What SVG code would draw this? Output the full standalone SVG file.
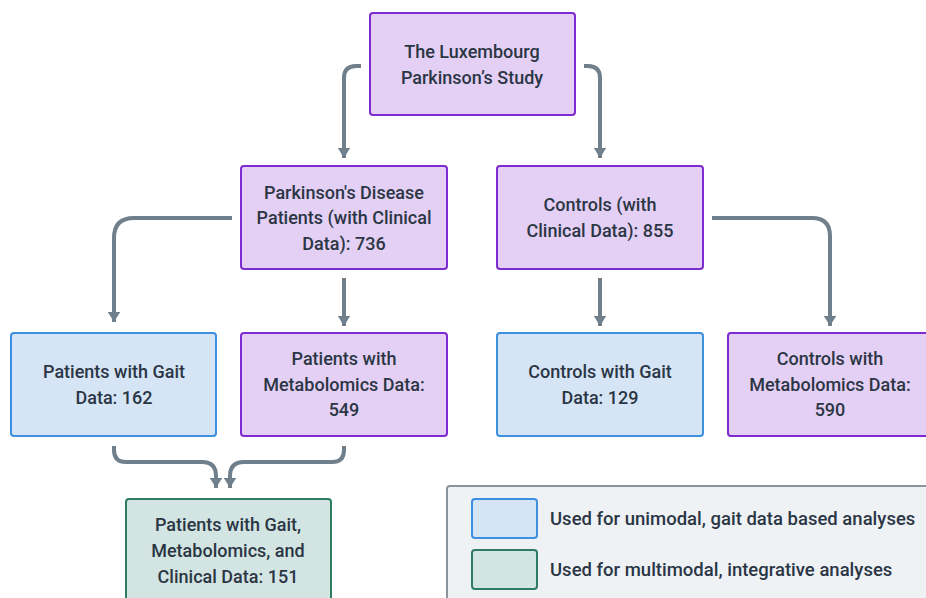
<svg xmlns="http://www.w3.org/2000/svg" width="926" height="598" viewBox="0 0 926 598">
<style>
.purple{fill:#e4d0f4;stroke:#7d2bd0;stroke-width:2}
.blue{fill:#d6e5f6;stroke:#3d8fe0;stroke-width:2}
.green{fill:#d3e5e2;stroke:#2e7d63;stroke-width:2}
.legend{fill:#eff2f5;stroke:#8b939b;stroke-width:2}
text{font-family:Roboto,"Noto Sans",sans-serif;font-size:18px;font-weight:500;fill:#2b3645;text-anchor:middle}
.lt{text-anchor:start;font-size:18.5px}
.conn path{fill:none;stroke:#6f7f8c;stroke-width:4}
</style>
<defs>
<marker id="ah" markerWidth="3" markerHeight="3.2" refX="2.6" refY="1.6" orient="auto" markerUnits="strokeWidth">
<path d="M0,0 L2.6,1.6 L0,3.2 Z" fill="#6f7f8c"/>
</marker>
</defs>
<g class="conn">
<path d="M361,66 H356 Q344,66 344,78 V158" marker-end="url(#ah)"/>
<path d="M584,66 H588 Q600,66 600,78 V158" marker-end="url(#ah)"/>
<path d="M232,218 H134 Q114,218 114,238 V322" marker-end="url(#ah)"/>
<path d="M344,278 V326" marker-end="url(#ah)"/>
<path d="M600,278 V326" marker-end="url(#ah)"/>
<path d="M712,218 H812 Q830,218 830,236 V326" marker-end="url(#ah)"/>
<path d="M114,446 V450 Q114,462 126,462 H202 Q216,462 216,476 V488" marker-end="url(#ah)"/>
<path d="M344,446 V450 Q344,462 332,462 H244 Q230,462 230,476 V488" marker-end="url(#ah)"/>
</g>
<g id="luxembourg">
<rect class="purple" x="370" y="13" width="205" height="102" rx="3"/>
<text x="472" y="58">The Luxembourg</text>
<text x="472" y="84">Parkinson’s Study</text>
</g>
<g id="pd">
<rect class="purple" x="241" y="166" width="206" height="103" rx="3"/>
<text x="344" y="199">Parkinson's Disease</text>
<text x="344" y="224">Patients (with Clinical</text>
<text x="344" y="250">Data): 736</text>
</g>
<g id="controls">
<rect class="purple" x="497" y="166" width="206" height="103" rx="3"/>
<text x="600" y="211">Controls (with</text>
<text x="600" y="237">Clinical Data): 855</text>
</g>
<g id="pgait">
<rect class="blue" x="11" y="333" width="205" height="103" rx="3"/>
<text x="114" y="378">Patients with Gait</text>
<text x="114" y="404">Data: 162</text>
</g>
<g id="pmetab">
<rect class="purple" x="241" y="333" width="206" height="103" rx="3"/>
<text x="344" y="365">Patients with</text>
<text x="344" y="391">Metabolomics Data:</text>
<text x="344" y="416">549</text>
</g>
<g id="cgait">
<rect class="blue" x="497" y="333" width="206" height="103" rx="3"/>
<text x="600" y="378">Controls with Gait</text>
<text x="600" y="404">Data: 129</text>
</g>
<g id="cmetab">
<rect class="purple" x="728" y="333" width="206" height="103" rx="3"/>
<text x="830" y="365">Controls with</text>
<text x="830" y="391">Metabolomics Data:</text>
<text x="830" y="416">590</text>
</g>
<g id="combined">
<rect class="green" x="126" y="499" width="205" height="110" rx="3"/>
<text x="228" y="531">Patients with Gait,</text>
<text x="228" y="557">Metabolomics, and</text>
<text x="228" y="583">Clinical Data: 151</text>
</g>
<g id="legend">
<rect class="legend" x="447" y="486" width="490" height="120" rx="3"/>
<rect class="blue" x="472" y="499" width="65" height="39" rx="3"/>
<rect class="green" x="472" y="550" width="65" height="39" rx="3"/>
<text class="lt" x="550" y="525">Used for unimodal, gait data based analyses</text>
<text class="lt" x="550" y="576">Used for multimodal, integrative analyses</text>
</g>
</svg>
